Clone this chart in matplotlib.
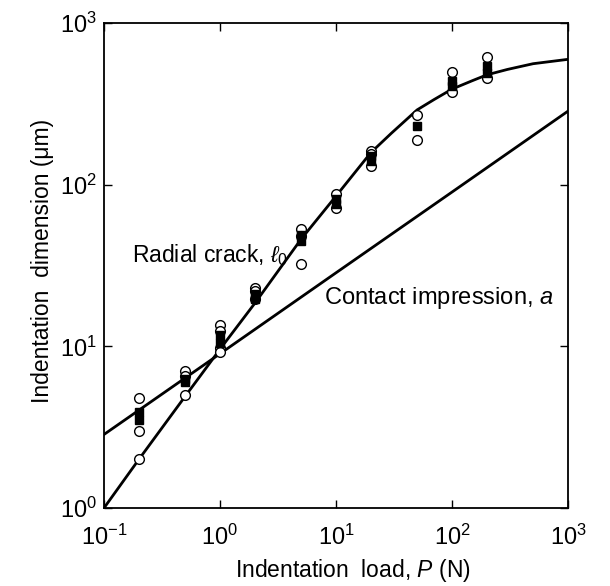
import matplotlib
matplotlib.use("Agg")
import matplotlib.pyplot as plt
import numpy as np

plt.rcParams['font.family'] = ['Liberation Sans', 'DejaVu Sans']
plt.rcParams['mathtext.fontset'] = 'custom'
plt.rcParams['mathtext.rm'] = 'Liberation Sans'
plt.rcParams['mathtext.it'] = 'Liberation Sans:italic'

# Open-circle data (load N, dimension um)
circ_P = [0.2, 0.2, 0.2, 0.5, 0.5, 0.5, 1, 1, 1, 1, 2, 2, 2,
          5, 5, 5, 10, 10, 20, 20, 20, 50, 50, 100, 100, 200, 200]
circ_d = [4.8, 3.0, 2.0, 7.0, 6.6, 5.0, 13.5, 12.5, 9.8, 9.2, 23, 22, 19.5,
          53, 48, 32.5, 88, 72, 162, 155, 130, 270, 189, 495, 375, 620, 455]
# Filled-square data
sq_P = [0.2, 0.2, 0.5, 0.5, 1, 1, 2, 2, 5, 5, 10, 10, 20, 20, 50, 100, 100, 200, 200]
sq_d = [3.5, 3.9, 6.0, 6.3, 10.5, 11.8, 19.5, 21, 45, 49, 76, 81, 140, 150, 232, 410, 440, 490, 540]

# Curves
crack_P = [0.1, 0.2, 0.5, 1, 2, 5, 10, 20, 30, 50, 70, 100, 150, 200, 300, 500, 1000]
crack_d = [1.0, 2.0, 4.9, 9.6, 18.5, 46, 85, 158, 208, 290, 336, 390, 440, 478, 516, 560, 596]
contact_P = [0.1, 1, 10, 100, 1000]
contact_d = [2.85, 9.0, 28.5, 90, 285]

fig = plt.figure(figsize=(6.1, 5.86), dpi=100)
ax = fig.add_axes([104/610, 1-508/586, (568-104)/610, (508-23)/586])

ax.plot(crack_P, crack_d, color='black', lw=2.0, zorder=2)
ax.plot(contact_P, contact_d, color='black', lw=2.0, zorder=2)
ax.plot(circ_P, circ_d, 'o', ms=7, mfc='white', mec='black', mew=1.0, ls='none', zorder=3)
ax.plot(sq_P, sq_d, 's', ms=5.5, mfc='black', mec='black', ls='none', zorder=4)

ax.set_xscale('log')
ax.set_yscale('log')
ax.set_xlim(0.1, 1000)
ax.set_ylim(1, 1000)
ax.minorticks_off()
ax.set_xticks([0.1, 1, 10, 100, 1000])
ax.set_yticks([1, 10, 100, 1000])
ax.tick_params(which='major', direction='in', length=6, width=1, top=True, right=True,
               labelsize=17)
ax.tick_params(axis='x', pad=12)
ax.tick_params(axis='y', pad=5)
for s in ax.spines.values():
    s.set_linewidth(1.3)

ax.set_xlabel('Indentation  load, $\\mathit{P}$ (N)', fontsize=16.5)
ax.set_ylabel('Indentation  dimension (\u03bcm)', fontsize=16.5)
ax.xaxis.set_label_coords(0.537, -0.102)
ax.yaxis.set_label_coords(-0.108, 0.51)

ax.text(0.175, 36.5, 'Radial crack, $\\ell_0$', fontsize=16.5, va='center', ha='left')
ax.text(7.9, 20, 'Contact impression, $\\mathit{a}$', fontsize=17, va='center', ha='left')

fig.savefig('out.png', dpi=100)
